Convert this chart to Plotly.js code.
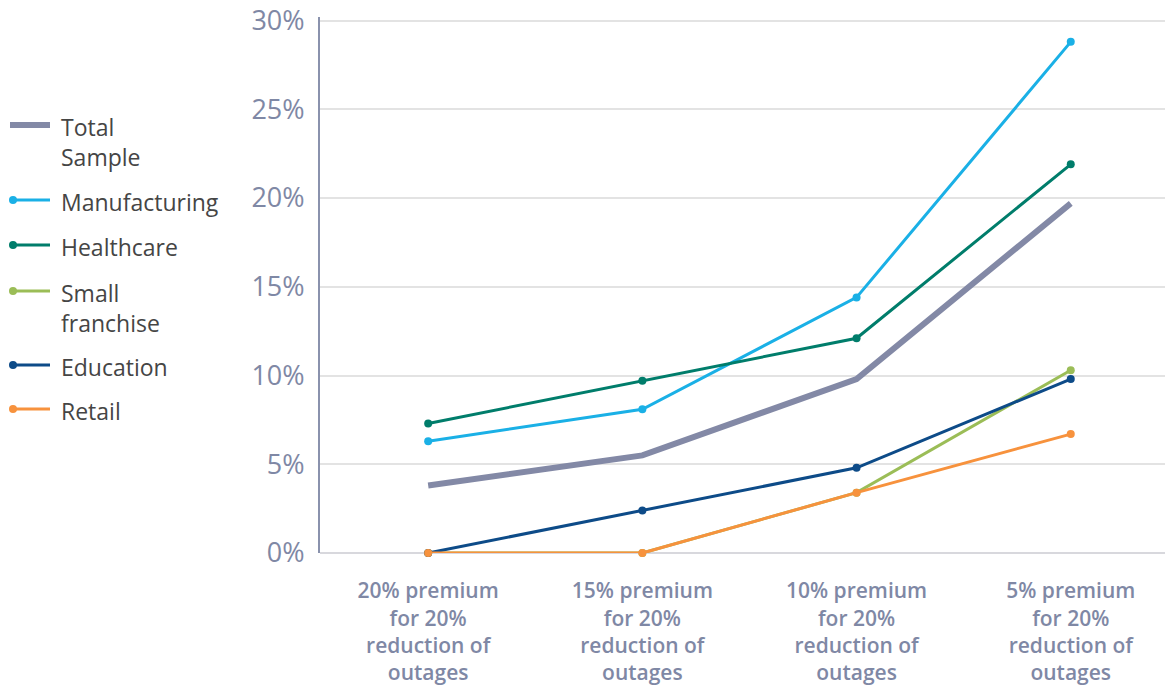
<!DOCTYPE html>
<html>
<head>
<meta charset="utf-8">
<script src="https://cdn.plot.ly/plotly-3.0.1.min.js"></script>
<style>
html,body{margin:0;padding:0;background:#fff;}
#chart{width:1167px;height:688px;}
</style>
</head>
<body>
<div id="chart"></div>
<script>
// ---- data ----
const categories = [
  '20% premium<br>for 20%<br>reduction of<br>outages',
  '15% premium<br>for 20%<br>reduction of<br>outages',
  '10% premium<br>for 20%<br>reduction of<br>outages',
  '5% premium<br>for 20%<br>reduction of<br>outages'
];
const seriesNames = ['Total Sample', 'Manufacturing', 'Healthcare', 'Small franchise', 'Education', 'Retail'];
const legendLabels = ['Total<br>Sample', 'Manufacturing', 'Healthcare', 'Small<br>franchise', 'Education', 'Retail'];
const totalSample    = [3.8, 5.5, 9.8, 19.7];
const manufacturing  = [6.3, 8.1, 14.4, 28.8];
const healthcare     = [7.3, 9.7, 12.1, 21.9];
const smallFranchise = [0, 0, 3.4, 10.3];
const education      = [0, 2.4, 4.8, 9.8];
const retail         = [0, 0, 3.4, 6.7];
const yTickVals = [0, 5, 10, 15, 20, 25, 30];
const yTickText = ['0%', '5%', '10%', '15%', '20%', '25%', '30%'];

// ---- styles ----
const colors = ['#8389a6', '#1ab0e6', '#007d6b', '#9bbd57', '#0d4b88', '#f7923d'];
const seriesValues = [totalSample, manufacturing, healthcare, smallFranchise, education, retail];
const tickColor = '#7f88a5';
const FONT = '"Open Sans", Lato, sans-serif';

const traces = seriesValues.map((vals, i) => ({
  type: 'scatter',
  x: categories,
  y: vals,
  name: seriesNames[i],
  mode: i === 0 ? 'lines' : 'lines+markers',
  line: {color: colors[i], width: i === 0 ? 6 : 3},
  marker: {color: colors[i], size: 8},
  cliponaxis: false,
  hoverinfo: 'skip',
  showlegend: false
}));

// plot area in pixels
const L = 320, R = 1165, T = 17, B = 553;
const px = x => (x - L) / (R - L);
const py = y => (B - y) / (B - T);

// custom legend (line with marker at left end)
const legendLineY = [125, 200, 245, 291, 365, 409];
const shapes = [];
const annotations = [];
legendLabels.forEach((lab, i) => {
  const y = legendLineY[i];
  shapes.push({
    type: 'line', xref: 'paper', yref: 'paper',
    x0: px(10), x1: px(50), y0: py(y), y1: py(y),
    line: {color: colors[i], width: i === 0 ? 6 : 3}
  });
  if (i > 0) {
    shapes.push({
      type: 'circle', xref: 'paper', yref: 'paper',
      xsizemode: 'pixel', ysizemode: 'pixel',
      xanchor: px(13), yanchor: py(y),
      x0: -4, x1: 4, y0: -4, y1: 4,
      fillcolor: colors[i], line: {width: 0}
    });
  }
  const nLines = lab.split('<br>').length;
  annotations.push({
    xref: 'paper', yref: 'paper',
    x: px(59), y: py(y + 2 + (nLines - 1) * 14.5),
    xanchor: 'left', yanchor: 'middle', align: 'left',
    text: lab, showarrow: false,
    font: {family: FONT, size: 23, color: '#454545'}
  });
});

const layout = {
  width: 1167, height: 688,
  margin: {l: L, r: 1167 - R, t: T, b: 688 - B},
  paper_bgcolor: '#ffffff', plot_bgcolor: '#ffffff',
  showlegend: false,
  font: {family: FONT},
  xaxis: {
    type: 'category',
    categoryarray: categories,
    range: [-0.505, 3.44],
    showgrid: false, zeroline: false, showline: false,
    ticks: 'outside', ticklen: 19, tickcolor: 'rgba(0,0,0,0)',
    tickfont: {family: FONT, size: 21, color: tickColor, weight: 600},
    fixedrange: true
  },
  yaxis: {
    range: [0, 30.2],
    tickvals: yTickVals, ticktext: yTickText,
    showgrid: true, gridcolor: '#e3e3e3', gridwidth: 2,
    zeroline: true, zerolinecolor: '#d8d8dd', zerolinewidth: 2,
    showline: true, linecolor: '#8a92ad', linewidth: 2,
    ticks: 'outside', ticklen: 8, tickcolor: 'rgba(0,0,0,0)',
    tickfont: {family: FONT, size: 27, color: tickColor},
    fixedrange: true
  },
  shapes: shapes,
  annotations: annotations
};

Plotly.newPlot('chart', traces, layout, {staticPlot: true, displayModeBar: false});
</script>
</body>
</html>
